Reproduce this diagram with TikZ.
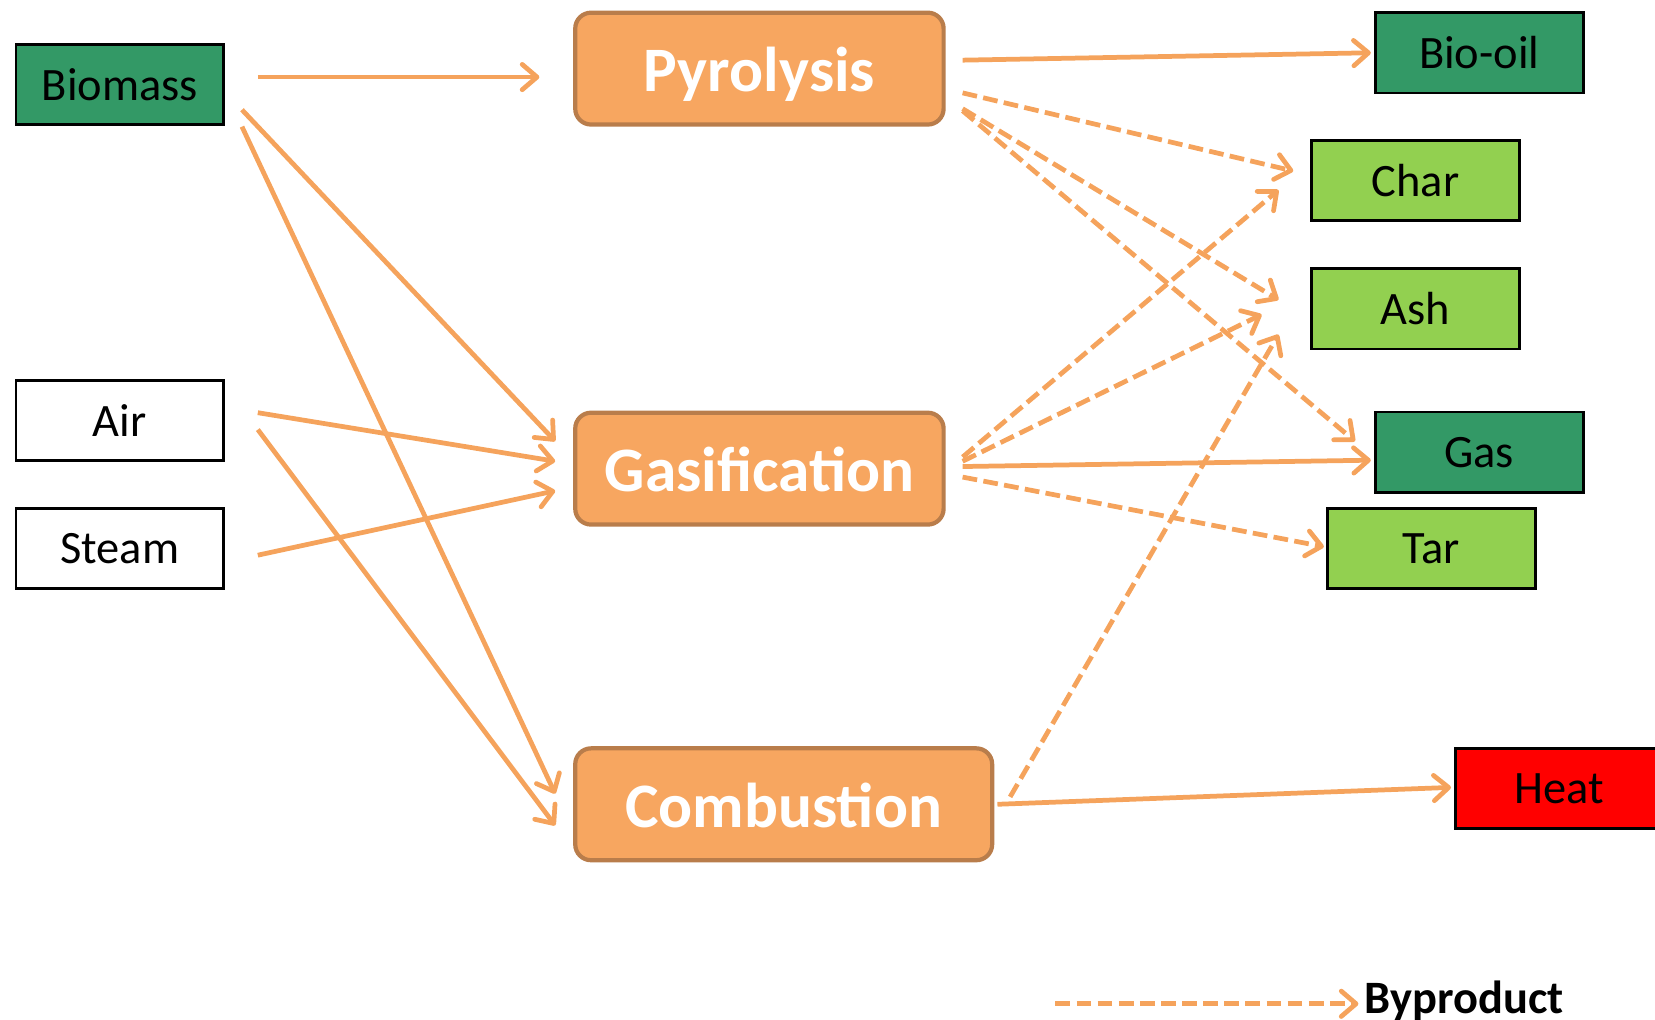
\documentclass[tikz,border=0pt]{standalone}
\usepackage{fontspec}
\setmainfont{Carlito}
\usetikzlibrary{calc,arrows.meta}
\definecolor{procfill}{HTML}{F7A660}
\definecolor{procdraw}{HTML}{B97D4B}
\definecolor{arrcol}{HTML}{F5A35C}
\definecolor{dkgreen}{HTML}{339966}
\definecolor{ltgreen}{HTML}{92D050}
\definecolor{heatred}{HTML}{FF0000}
\begin{document}
\begin{tikzpicture}[x=1pt,y=-1pt,
  item/.style={draw=black,line width=2.5pt,minimum width=197pt,minimum height=76pt,inner sep=0pt,
    font=\fontsize{44}{50}\selectfont,text=black},
  proc/.style={draw=procdraw,fill=procfill,line width=4pt,rounded corners=15pt,minimum height=106pt,
    inner sep=0pt,text height=44pt,text depth=0pt,font=\fontsize{60}{66}\selectfont\bfseries,text=white},
  arr/.style={draw=arrcol,line width=4.5pt,-{Straight Barb[length=14pt,width=24pt,line width=4.5pt,round]}},
  darr/.style={arr,dash pattern=on 14pt off 6pt}]
\useasboundingbox (0,0) rectangle (1568,966);
% inputs
\node[item,fill=dkgreen] (bio) at (113.5,80) {Biomass};
\node[item,fill=white] (air) at (113.5,398.5) {Air};
\node[item,fill=white] (steam) at (113.5,519.5) {Steam};
% processes
\node[proc,minimum width=349pt] (pyr) at (719.5,65) {Pyrolysis};
\node[proc,minimum width=349pt] (gsf) at (719.5,444) {Gasification};
\node[proc,minimum width=395pt] (cmb) at (742.5,762) {Combustion};
% products
\node[item,fill=dkgreen] (oil) at (1401.5,50) {Bio-oil};
\node[item,fill=ltgreen] (char) at (1341,171) {Char};
\node[item,fill=ltgreen] (ash) at (1341,292.5) {Ash};
\node[item,fill=dkgreen] (gas) at (1401.5,428.5) {Gas};
\node[item,fill=ltgreen] (tar) at (1356,519.5) {Tar};
\node[item,fill=heatred] (heat) at (1477.5,747) {Heat};
% solid arrows
\draw[arr] ($(bio.east)+(31,-7)$) -- ($(pyr.west)+(-32,8)$);
\draw[arr] ($(bio.east)+(16,24)$) -- ($(gsf.west)+(-17,-26)$);
\draw[arr] ($(bio.east)+(16,40)$) -- ($(cmb.west)+(-17,-10)$);
\draw[arr] ($(air.east)+(31,-7.5)$) -- ($(gsf.west)+(-17,-7)$);
\draw[arr] ($(air.east)+(31,8.5)$) -- ($(cmb.west)+(-17,20)$);
\draw[arr] ($(steam.east)+(31,6.5)$) -- ($(gsf.west)+(-17,21)$);
\draw[arr] ($(pyr.east)+(16,-8)$) -- ($(oil.west)+(-3,0)$);
\draw[arr] ($(gsf.east)+(16,-2)$) -- ($(gas.west)+(-3,7.5)$);
\draw[arr] ($(cmb.east)+(3,0)$) -- ($(heat.west)+(-3,-1)$);
% dashed arrows
\draw[darr] ($(pyr.east)+(16,23)$) -- ($(char.west)+(-16,-9)$);
\draw[darr] ($(pyr.east)+(16,38)$) -- ($(ash.west)+(-30,-8.5)$);
\draw[darr] ($(pyr.east)+(16,40)$) -- ($(gas.west)+(-18,-10.5)$);
\draw[darr] ($(gsf.east)+(16,-11)$) -- ($(char.west)+(-30,9)$);
\draw[darr] ($(gsf.east)+(16,-7)$) -- ($(ash.west)+(-46,5.5)$);
\draw[darr] ($(gsf.east)+(16,8)$) -- ($(tar.west)+(-2,-1.5)$);
\draw[darr] ($(cmb.east)+(15,-7)$) -- ($(ash.west)+(-30,24.5)$);
% legend
\node[anchor=base west,inner sep=0pt,font=\fontsize{44}{50}\selectfont\bfseries] (leg) at (1293,960) {Byproduct};
\coordinate (ls) at (1000,951);
\draw[darr] (ls) -- ($(leg.base west)+(-6,-9)$);
\end{tikzpicture}
\end{document}
